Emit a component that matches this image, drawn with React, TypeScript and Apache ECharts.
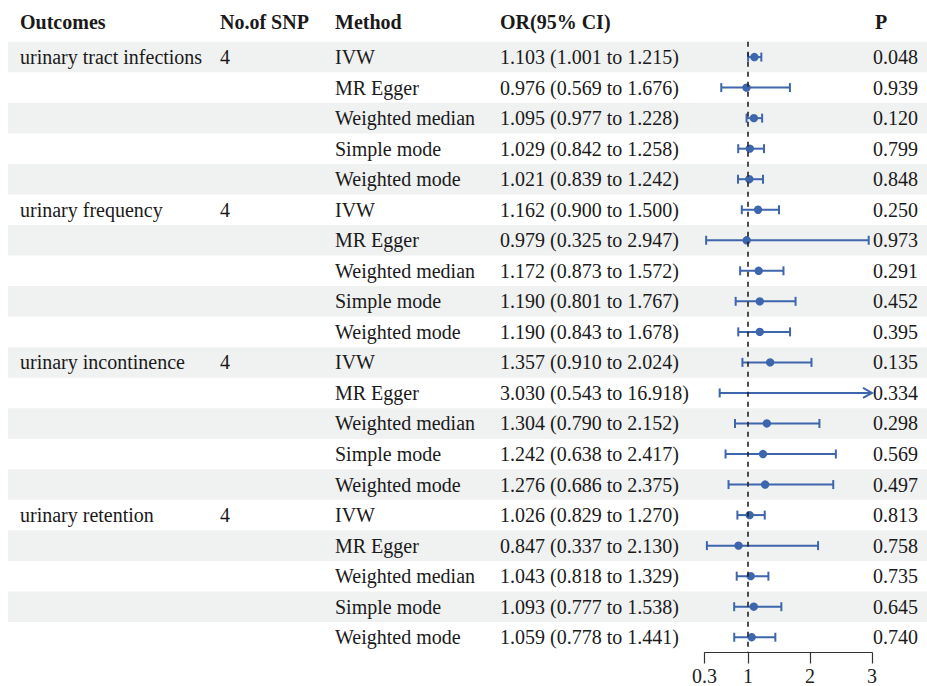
import React, { useEffect, useRef } from "react";
import * as echarts from "echarts";

const outcomes = ["urinary tract infections", "urinary frequency", "urinary incontinence", "urinary retention"];
const snpCounts = ["4", "4", "4", "4"];
const methods = ["IVW", "MR Egger", "Weighted median", "Simple mode", "Weighted mode"];
const orValues = [
  1.103, 0.976, 1.095, 1.029, 1.021,
  1.162, 0.979, 1.172, 1.19, 1.19,
  1.357, 3.03, 1.304, 1.242, 1.276,
  1.026, 0.847, 1.043, 1.093, 1.059,
];
const lowerCI = [
  1.001, 0.569, 0.977, 0.842, 0.839,
  0.9, 0.325, 0.873, 0.801, 0.843,
  0.91, 0.543, 0.79, 0.638, 0.686,
  0.829, 0.337, 0.818, 0.777, 0.778,
];
const upperCI = [
  1.215, 1.676, 1.228, 1.258, 1.242,
  1.5, 2.947, 1.572, 1.767, 1.678,
  2.024, 16.918, 2.152, 2.417, 2.375,
  1.27, 2.13, 1.329, 1.538, 1.441,
];
const pValues = [
  "0.048", "0.939", "0.120", "0.799", "0.848",
  "0.250", "0.973", "0.291", "0.452", "0.395",
  "0.135", "0.334", "0.298", "0.569", "0.497",
  "0.813", "0.758", "0.735", "0.645", "0.740",
];
const headers = ["Outcomes", "No.of SNP", "Method", "OR(95% CI)", "P"];
const xTicks = [0.3, 1, 2, 3];
const X_MIN = 0.3;
const X_MAX = 3;

const FONT = "'Liberation Serif', 'Times New Roman', serif";
const TEXT_COLOR = "#1a1a1a";
const BLUE = "#3d66ad";
const COL_X = [20, 220, 335, 500, 873];

function fmt(v: number) {
  return v.toFixed(3);
}

export default function App() {
  const ref = useRef<HTMLDivElement>(null);
  useEffect(() => {
    if (!ref.current) return;
    const chart = echarts.init(ref.current, null, { renderer: "svg" });
    const nRows = orValues.length;
    const rows = orValues.map((v, i) => [i, v, lowerCI[i], upperCI[i]]);
    const groupSize = methods.length;

    const option: any = {
      animation: false,
      backgroundColor: "#ffffff",
      grid: { left: 704.6, right: 55, top: 41.8, bottom: 33.5 },
      xAxis: {
        type: "value",
        position: "bottom",
        min: X_MIN,
        max: X_MAX,
        splitLine: { show: false },
        axisLine: { show: true, onZero: false, lineStyle: { color: "#333", width: 1.2 } },
        axisTick: { show: true, length: 11, customValues: xTicks, lineStyle: { color: "#333", width: 1.2 } },
        axisLabel: {
          show: true,
          customValues: xTicks,
          formatter: (v: number) => String(v),
          fontFamily: FONT,
          fontSize: 20,
          color: "#222",
          margin: 13,
        },
      },
      yAxis: {
        type: "value",
        inverse: true,
        min: -0.5,
        max: nRows - 0.5,
        show: false,
      },
      graphic: headers.map((h, i) => ({
        type: "text",
        x: COL_X[i] + (i === 4 ? 2 : 0),
        y: 22,
        style: {
          text: h,
          fontFamily: FONT,
          fontSize: 20,
          fontWeight: "bold",
          fill: TEXT_COLOR,
          verticalAlign: "middle",
          align: "left",
        },
      })),
      series: [
        {
          type: "custom",
          name: "bands",
          z: 0,
          silent: true,
          clip: false,
          data: rows.map((r) => [1, r[0]]),
          encode: { x: 0, y: 1 },
          renderItem: (params: any, api: any) => {
            const idx = api.value(1);
            if (idx % 2 !== 0) return null;
            const y0 = api.coord([1, idx - 0.5])[1];
            const y1 = api.coord([1, idx + 0.5])[1];
            return {
              type: "rect",
              shape: { x: 8, y: y0, width: 919, height: y1 - y0 },
              style: { fill: "#f0f1f1" },
            };
          },
        },
        {
          type: "custom",
          name: "table",
          z: 3,
          silent: true,
          clip: false,
          data: rows.map((r) => [1, r[0]]),
          encode: { x: 0, y: 1 },
          renderItem: (params: any, api: any) => {
            const idx = api.value(1);
            const y = api.coord([1, idx])[1];
            const g = Math.floor(idx / groupSize);
            const first = idx % groupSize === 0;
            const texts = [
              first ? outcomes[g] : "",
              first ? snpCounts[g] : "",
              methods[idx % groupSize],
              `${fmt(orValues[idx])} (${fmt(lowerCI[idx])} to ${fmt(upperCI[idx])})`,
              pValues[idx],
            ];
            return {
              type: "group",
              children: texts
                .map((t, c) => ({
                  type: "text",
                  style: {
                    text: t,
                    x: COL_X[c],
                    y,
                    fontFamily: FONT,
                    fontSize: 20,
                    fill: TEXT_COLOR,
                    verticalAlign: "middle",
                    align: "left",
                  },
                }))
                .filter((e) => e.style.text !== ""),
            };
          },
        },
        {
          type: "custom",
          name: "ci",
          z: 4,
          silent: true,
          clip: false,
          data: rows,
          encode: { x: [1, 2, 3], y: 0 },
          renderItem: (params: any, api: any) => {
            const idx = api.value(0);
            const est = api.value(1);
            const lo = api.value(2);
            const hi = api.value(3);
            const y = api.coord([X_MIN, idx])[1];
            const xLo = api.coord([Math.max(lo, X_MIN), idx])[0];
            const xHi = api.coord([Math.min(hi, X_MAX), idx])[0];
            const ls = { stroke: BLUE, lineWidth: 2 };
            const cap = 4.5;
            const children: any[] = [
              { type: "line", shape: { x1: xLo, y1: y, x2: xHi, y2: y }, style: ls },
              { type: "line", shape: { x1: xLo, y1: y - cap, x2: xLo, y2: y + cap }, style: ls },
            ];
            if (hi <= X_MAX) {
              children.push({ type: "line", shape: { x1: xHi, y1: y - cap, x2: xHi, y2: y + cap }, style: ls });
            } else {
              children.push({
                type: "polyline",
                shape: { points: [[xHi - 9, y - 5], [xHi, y], [xHi - 9, y + 5]] },
                style: { stroke: BLUE, lineWidth: 2, fill: "none" },
              });
            }
            if (est <= X_MAX) {
              const xe = api.coord([est, idx])[0];
              children.push({ type: "circle", shape: { cx: xe, cy: y, r: 4.2 }, style: { fill: BLUE } });
            }
            return { type: "group", children };
          },
          markLine: {
            silent: true,
            symbol: "none",
            label: { show: false },
            lineStyle: { color: "#222", width: 1.6, type: [5, 5] },
            data: [{ xAxis: 1 }],
          },
        },
      ],
    };
    chart.setOption(option);
    return () => chart.dispose();
  }, []);
  return (
    <div
      ref={ref}
      style={{ position: "fixed", left: 0, top: 0, width: 927, height: 686, background: "#fff" }}
    />
  );
}
